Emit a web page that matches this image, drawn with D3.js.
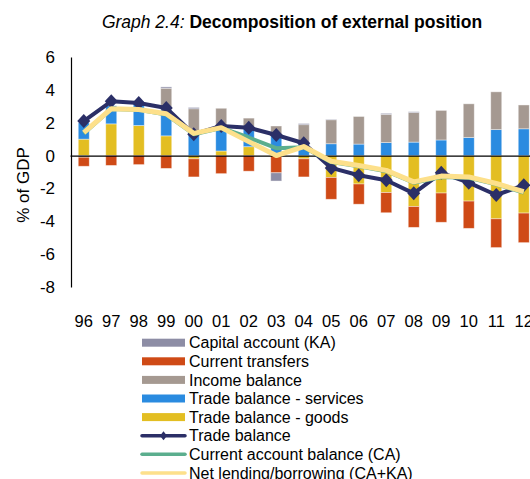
<!DOCTYPE html>
<html>
<head>
<meta charset="utf-8">
<script src="https://cdn.jsdelivr.net/npm/d3@7"></script>
<style>
  body { margin: 0; background: #fff; }
  text { font-family: "Liberation Sans", Arial, sans-serif; fill: #000; }
</style>
</head>
<body>
<script>
const w = 530;
const h = 479;

// years on the x axis
const years = ["96", "97", "98", "99", "00", "01", "02", "03", "04", "05", "06", "07", "08", "09", "10", "11", "12"];

// bar components, % of GDP
const goods     = [1.0, 1.93, 1.83, 1.2, -0.2, 0.28, 0.54, 0.05, -0.2, -1.33, -1.73, -2.25, -3.1, -2.28, -2.77, -3.85, -3.5];
const services  = [1.0, 1.1, 1.4, 1.6, 1.5, 1.4, 1.1, 1.15, 0.75, 0.72, 0.7, 0.79, 0.82, 0.95, 1.1, 1.58, 1.63];
const income    = [-0.1, 0, 0, 1.3, 1.35, 1.2, 0.64, 0.6, 1.13, 1.46, 1.68, 1.72, 1.8, 1.8, 2.05, 2.3, 1.45];
const transfers = [-0.55, -0.6, -0.55, -0.78, -1.1, -1.1, -0.95, -1.05, -1.1, -1.33, -1.23, -1.23, -1.27, -1.78, -1.66, -1.75, -1.8];
const capital   = [0, 0, 0, 0.08, 0.08, 0, 0, -0.5, 0.07, 0.03, 0, 0.06, 0.05, 0, 0, 0, 0];

// lines
const tradeBalance = [2.1, 3.3, 3.2, 2.9, 1.3, 1.8, 1.7, 1.25, 0.75, -0.75, -1.2, -1.5, -2.3, -1.05, -1.65, -2.4, -1.8];
const currentAcc   = [1.35, 2.83, 2.78, 2.5, 1.3, 1.68, 1.1, 0.45, 0.5, -0.4, -0.65, -0.95, -1.65, -1.3, -1.35, -1.75, -2.25];
const netLending   = [1.4, 2.85, 2.8, 2.55, 1.35, 1.7, 0.85, 0.0, 0.55, -0.35, -0.6, -0.9, -1.6, -1.25, -1.3, -1.7, -2.2];

const yTicks = [-8, -6, -4, -2, 0, 2, 4, 6];

const keys = ["goods", "services", "income", "transfers", "capital"];
const colors = {
  goods: "#E3BE22",
  services: "#2A8BE0",
  income: "#A59991",
  transfers: "#CF4A16",
  capital: "#8D8DA5"
};

const rows = years.map((yr, i) => ({
  year: yr,
  goods: goods[i],
  services: services[i],
  income: income[i],
  transfers: transfers[i],
  capital: capital[i]
}));

const svg = d3.select("body")
  .append("svg")
  .attr("width", w)
  .attr("height", h);

// title
const title = svg.append("text")
  .attr("x", 292)
  .attr("y", 28)
  .attr("text-anchor", "middle")
  .style("font-size", "17.5px");
title.append("tspan").style("font-style", "italic").text("Graph 2.4: ");
title.append("tspan").style("font-weight", "bold").text("Decomposition of external position");

const xScale = d3.scaleBand()
  .domain(years)
  .range([70, 537.5])
  .paddingInner(0.6)
  .paddingOuter(0.3);

const yScale = d3.scaleLinear()
  .domain([-8, 6])
  .range([287, 57]);

// y axis (plain hyphen for negatives, like the original)
const yAxis = svg.append("g")
  .attr("transform", "translate(71, 0)")
  .call(d3.axisLeft(yScale).tickValues(yTicks).tickSize(0).tickSizeOuter(0).tickPadding(16).tickFormat(d => String(d)));
yAxis.selectAll("text").style("font-size", "17px").style("font-family", "Liberation Sans, Arial, sans-serif");
yAxis.select(".domain").attr("stroke", "#000").attr("stroke-width", 1.2);

// y axis title
svg.append("text")
  .attr("transform", "translate(29, 185) rotate(-90)")
  .attr("text-anchor", "middle")
  .style("font-size", "17px")
  .text("% of GDP");

// stacked bars
const series = d3.stack().keys(keys).offset(d3.stackOffsetDiverging)(rows);

svg.append("g")
  .selectAll("g")
  .data(series)
  .join("g")
  .attr("fill", d => colors[d.key])
  .selectAll("rect")
  .data(d => d)
  .join("rect")
  .attr("x", d => xScale(d.data.year))
  .attr("width", xScale.bandwidth())
  .attr("y", d => yScale(Math.max(d[0], d[1])))
  .attr("height", d => Math.abs(yScale(d[0]) - yScale(d[1])))
  .attr("stroke", "rgba(255,255,255,0.5)")
  .attr("stroke-width", 0.8);

// zero line (x axis)
svg.append("g")
  .attr("transform", "translate(0," + yScale(0) + ")")
  .call(d3.axisBottom(xScale).tickSize(0).tickSizeOuter(0).tickFormat(""))
  .select(".domain")
  .attr("stroke", "#000")
  .attr("stroke-width", 1.2);

// x tick labels at the bottom
const xLabels = svg.append("g")
  .attr("transform", "translate(0," + yScale(-8) + ")")
  .call(d3.axisBottom(xScale).tickSize(0).tickPadding(28));
xLabels.select(".domain").remove();
xLabels.selectAll("text").style("font-size", "16.5px").style("font-family", "Liberation Sans, Arial, sans-serif");

const cx = d => xScale(d) + xScale.bandwidth() / 2;

const line = d3.line()
  .x((d, i) => cx(years[i]))
  .y(d => yScale(d));

// trade balance with diamonds
svg.append("path")
  .datum(tradeBalance)
  .attr("fill", "none")
  .attr("stroke", "#2B2F67")
  .attr("stroke-width", 4)
  .attr("stroke-linejoin", "round")
  .attr("d", line);

svg.append("g")
  .selectAll("path")
  .data(tradeBalance)
  .join("path")
  .attr("transform", (d, i) => "translate(" + cx(years[i]) + "," + yScale(d) + ")")
  .attr("d", "M0,-7L6.5,0L0,7L-6.5,0Z")
  .attr("fill", "#2B2F67");

svg.append("path")
  .datum(currentAcc)
  .attr("fill", "none")
  .attr("stroke", "#5BAE8E")
  .attr("stroke-width", 4)
  .attr("stroke-linejoin", "round")
  .attr("d", line);

svg.append("path")
  .datum(netLending)
  .attr("fill", "none")
  .attr("stroke", "#FDE08B")
  .attr("stroke-width", 5)
  .attr("stroke-linejoin", "round")
  .attr("d", line);

// legend
const legendItems = [
  { label: "Capital account (KA)", type: "bar", color: colors.capital },
  { label: "Current transfers", type: "bar", color: colors.transfers },
  { label: "Income balance", type: "bar", color: colors.income },
  { label: "Trade balance - services", type: "bar", color: colors.services },
  { label: "Trade balance - goods", type: "bar", color: colors.goods },
  { label: "Trade balance", type: "marker", color: "#2B2F67" },
  { label: "Current account balance (CA)", type: "line", color: "#5BAE8E" },
  { label: "Net lending/borrowing (CA+KA)", type: "line", color: "#FDE08B" }
];

const legend = svg.append("g")
  .selectAll("g")
  .data(legendItems)
  .join("g")
  .attr("transform", (d, i) => "translate(142," + (342.7 + i * 18.6) + ")");

legend.filter(d => d.type === "bar")
  .append("rect")
  .attr("x", 0)
  .attr("y", -4)
  .attr("width", 43)
  .attr("height", 8)
  .attr("fill", d => d.color);

legend.filter(d => d.type !== "bar")
  .append("line")
  .attr("x1", 0)
  .attr("x2", 43)
  .attr("stroke", d => d.color)
  .attr("stroke-width", 3.5)
  .attr("stroke-linecap", "round");

legend.filter(d => d.type === "marker")
  .append("path")
  .attr("transform", "translate(21.5,0)")
  .attr("d", "M0,-4.5L3.5,0L0,4.5L-3.5,0Z")
  .attr("fill", d => d.color);

legend.append("text")
  .attr("x", 47)
  .attr("dy", "0.36em")
  .style("font-size", "16px")
  .text(d => d.label);
</script>
</body>
</html>
